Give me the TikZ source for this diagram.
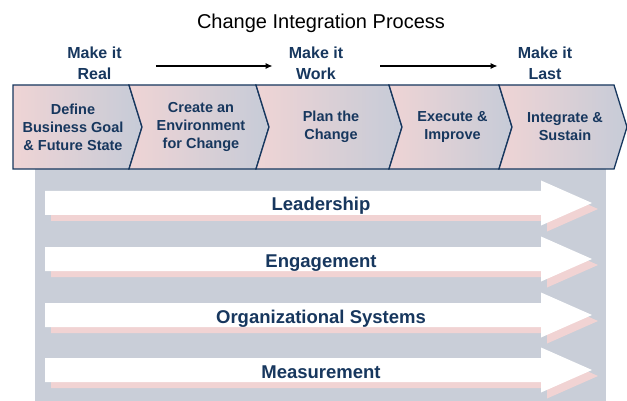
\documentclass[tikz,border=0pt]{standalone}
\usepackage{fontspec}
\setmainfont{Liberation Sans}
\usetikzlibrary{arrows.meta}
\definecolor{navy}{HTML}{17375E}
\definecolor{rose}{HTML}{EFD4D5}
\definecolor{slate}{HTML}{C6CBD7}
\definecolor{panel}{HTML}{C9CED8}
\definecolor{shadowpink}{HTML}{F1D3D3}
\tikzstyle{chev} = [draw=navy, line width=1.3pt, left color=rose, right color=slate]
\tikzstyle{stage} = [align=center, text=navy, inner sep=0pt, font=\bfseries\fontsize{14.5}{18}\selectfont]
\tikzstyle{phase} = [align=center, text=navy, inner sep=0pt, font=\bfseries\fontsize{16}{21}\selectfont]
\tikzstyle{arr} = [draw, line width=1.5pt, -{Latex[length=7pt,width=6pt]}]
\tikzstyle{bandlabel} = [text=navy, anchor=base, font=\bfseries\fontsize{18.5}{22}\selectfont]

\begin{document}
\begin{tikzpicture}[x=1pt, y=-1pt]
    \useasboundingbox (0,0) rectangle (627,401);
    \node[anchor=base, font=\fontsize{20}{24}\selectfont] (title) at (321,29) {Change Integration Process};

    % phases above the chevrons
    \foreach \pos/\name/\val in {{(94.5,63)/real/Real}, {(316,63)/work/Work},
    {(545,63)/last/Last}}
        \node[phase] (\name) at \pos {Make it\\\val};
    \path[arr] ([xshift=34pt,yshift=-3pt]real.east) -- ([xshift=-16pt,yshift=-3pt]work.west);
    \path[arr] ([xshift=37pt,yshift=-3pt]work.east) -- ([xshift=-20pt,yshift=-3pt]last.west);

    % grey panel behind the bands
    \fill[panel] (35,169) rectangle (606,401);

    % chevron row
    \foreach \xa/\xb/\nt/\name/\val in {13/129/0/define/{Define\\Business Goal\\\& Future State},
    129/256/13/create/{Create an\\Environment\\for Change}, 256/389/13/plan/{Plan the\\Change},
    389/499/13/execute/{Execute \&\\Improve}, 499/614/13/sustain/{Integrate \&\\Sustain}}
    {
        \path[chev] (\xa,85) -- (\xb,85) -- (\xb+13,127) -- (\xb,169) -- (\xa,169)
            -- (\xa+\nt,127) -- cycle;
        \node[stage] (\name) at ({(\xa+\xb+\nt)/2+2},127) {\val};
    }

    % white band arrows with pink shadow
    \foreach \y/\name/\val in {203/lead/Leadership, 259/engage/Engagement,
    315/orgsys/Organizational Systems, 370/measure/Measurement}
    {
        \foreach \d/\c in {6/shadowpink, 0/white}
            \fill[\c, shift={(\d,\d)}] (45,\y-12) -- (541,\y-12) -- (541,\y-22.5) -- (592,\y)
                -- (541,\y+22.5) -- (541,\y+12) -- (45,\y+12) -- cycle;
        \node[bandlabel] (\name) at (321,\y+8) {\val};
    }
\end{tikzpicture}
\end{document}
